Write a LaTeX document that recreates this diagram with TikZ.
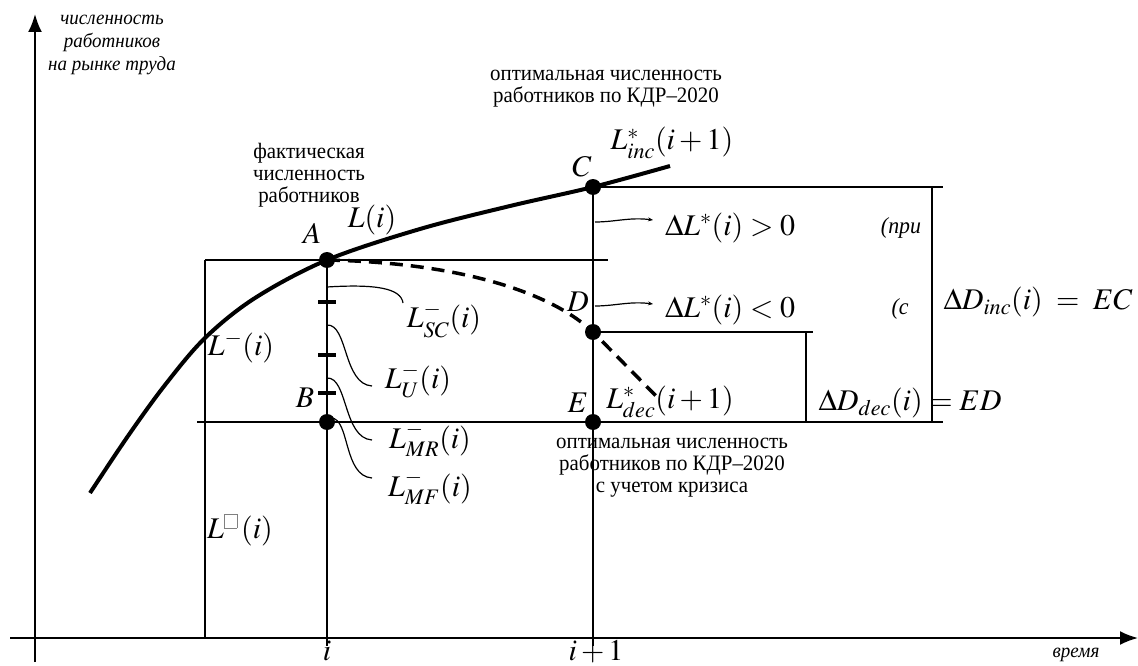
\documentclass[tikz,border=0pt]{standalone}
\usepackage{mathptmx}
\usepackage{fontspec}
\setmainfont{Liberation Serif}
\newfontfamily\txtfont{Liberation Serif}[FakeStretch=0.95]
\usetikzlibrary{arrows.meta}
\newcommand{\missbox}{\textcolor{gray}{\fboxsep=0pt\fboxrule=0.7pt\fbox{\rule{0pt}{13pt}\hspace{12pt}}}}
\begin{document}
\begin{tikzpicture}[x=1pt,y=-1pt,
  lbl/.style={inner sep=0pt, font=\txtfont\fontsize{22}{22}\selectfont, align=center},
  ilbl/.style={inner sep=0pt, font=\txtfont\itshape\fontsize{20}{23}\selectfont, align=center},
  mth/.style={inner sep=0pt, font=\fontsize{30}{34}\selectfont},
  dot/.style={circle, fill=black, inner sep=0pt, minimum size=16pt},
  ln/.style={line width=1.5pt},
  axis/.style={line width=2pt, -{Latex[length=18pt,width=14pt]}},
  mainc/.style={line width=4pt},
  dashcurve/.style={line width=3.5pt, dash pattern=on 13pt off 8pt},
  leader/.style={line width=1.2pt},
  tickm/.style={line width=3.5pt},
  pointer/.style={line width=1.2pt, -{Stealth[length=5pt,width=4pt]}}]
\useasboundingbox (0,0) rectangle (1138,666);
% axes
\coordinate (ybot) at (35,662);
\coordinate (ytop) at (35,14);
\coordinate (xleft) at (10,638);
\coordinate (xright) at (1138,638);
\draw[axis] (ybot) -- (ytop);
\draw[axis] (xleft) -- (xright);
% points
\coordinate (Ap) at (327,260);
\coordinate (Bp) at (327,422);
\coordinate (Cp) at (593,187);
\coordinate (Dp) at (593,332);
\coordinate (Ep) at (593,422);
% frame lines
\coordinate (ibot) at (327,646);
\coordinate (i1bot) at (593,646);
\coordinate (lA) at (205,260);
\coordinate (lAb) at (205,638);
\coordinate (rA) at (608,260);
\coordinate (lE) at (197,422);
\coordinate (rE) at (943,422);
\coordinate (rC) at (943,187);
\coordinate (vCt) at (932,187);
\coordinate (vCb) at (932,422);
\coordinate (rD) at (813,332);
\coordinate (vDt) at (806,332);
\coordinate (vDb) at (806,422);
\draw[ln] (Ap) -- (ibot);
\draw[ln] (Cp) -- (i1bot);
\draw[ln] (lA) -- (lAb);
\draw[ln] (lA) -- (rA);
\draw[ln] (lE) -- (rE);
\draw[ln] (Cp) -- (rC);
\draw[ln] (vCt) -- (vCb);
\draw[ln] (Dp) -- (rD);
\draw[ln] (vDt) -- (vDb);
% ticks
\draw[tickm] (318,302) -- (336,302);
\draw[tickm] (318,355) -- (336,355);
\draw[tickm] (318,393) -- (336,393);
% main curve
\draw[mainc] plot[smooth, tension=0.55] coordinates {(90,493) (128,436) (165,385) (205,338) (255,298) (327,260) (420,229) (510,206) (593,187) (670,166)};
% dashed curve
\coordinate (dend) at (657,397);
\draw[dashcurve] (Ap) .. controls (470,263) and (555,296) .. (Dp) -- (dend);
% dots
\node[dot] (A) at (Ap) {};
\node[dot] (B) at (Bp) {};
\node[dot] (C) at (Cp) {};
\node[dot] (D) at (Dp) {};
\node[dot] (E) at (Ep) {};
% leaders
\coordinate (sc0) at (327,287); \coordinate (sc1) at (403,303);
\coordinate (u0) at (327,325);  \coordinate (u1) at (372,386);
\coordinate (mr0) at (327,378); \coordinate (mr1) at (372,440);
\coordinate (mf0) at (331,418); \coordinate (mf1) at (372,478);
\draw[leader] (sc0) .. controls (375,284) and (401,288) .. (sc1);
\draw[leader] (u0) .. controls (348,324) and (343,384) .. (u1);
\draw[leader] (mr0) .. controls (348,377) and (343,438) .. (mr1);
\draw[leader] (mf0) .. controls (350,418) and (343,476) .. (mf1);
\coordinate (p0) at (595,222); \coordinate (p1) at (653,220);
\coordinate (q0) at (595,306); \coordinate (q1) at (653,304);
\draw[pointer] (p0) .. controls (615,222) and (630,217) .. (p1);
\draw[pointer] (q0) .. controls (615,306) and (630,301) .. (q1);
% point labels
\node[mth] (lblA) at (312,233) {$A$};
\node[mth] (lblB) at (305,398) {$B$};
\node[mth] (lblC) at (582,167) {$C$};
\node[mth] (lblD) at (578,302) {$D$};
\node[mth] (lblE) at (578,403) {$E$};
% math labels
\node[mth] (Li) at (372,220) {$L(i)$};
\node[mth] (Linc) at (672,143) {$L^{*}_{inc}(i+1)$};
\node[mth] (dLp) at (730,228) {$\Delta L^{*}(i) > 0$};
\node[mth] (dLn) at (730,310) {$\Delta L^{*}(i) < 0$};
\node[mth] (Ldec) at (670,402) {$L^{*}_{dec}(i+1)$};
\node[mth] (dDdec) at (910,403) {$\Delta D_{dec}(i) = ED$};
\node[mth] (dDinc) at (1038,302) {$\Delta D_{inc}(i) \;=\; EC$};
\node[mth] (Lsc) at (444,320) {$L^{-}_{SC}(i)$};
\node[mth] (Lu) at (418,381) {$L^{-}_{U}(i)$};
\node[mth] (Lmr) at (430,440) {$L^{-}_{MR}(i)$};
\node[mth] (Lmf) at (430,488) {$L^{-}_{MF}(i)$};
\node[mth] (Lm) at (241,347) {$L^{-}(i)$};
\node[mth] (Lbox) at (240,530) {$L^{\hbox{\missbox}}\,(i)$};
\node[mth, anchor=base] (ti) at (327,660) {$i$};
\node[mth, anchor=base] (ti1) at (596,660) {$i+1$};
% italic fragments
\node[inner sep=0pt, font=\txtfont\itshape\fontsize{23}{26}\selectfont] (pri) at (901,228) {(при};
\node[inner sep=0pt, font=\txtfont\itshape\fontsize{23}{26}\selectfont] (sc) at (900,309) {(с};
% text labels
\node[ilbl] (yl) at (112,45) {численность\\работников\\на рынке труда};
\node[ilbl] (xl) at (1076,655) {время};
\node[lbl] (fact) at (309,175) {фактическая\\численность\\работников};
\node[lbl] (opt1) at (606,89) {оптимальная численность\\работников по КДР–2020};
\node[lbl] (opt2) at (672,468) {оптимальная численность\\работников по КДР–2020\\с учетом кризиса};
\end{tikzpicture}
\end{document}
